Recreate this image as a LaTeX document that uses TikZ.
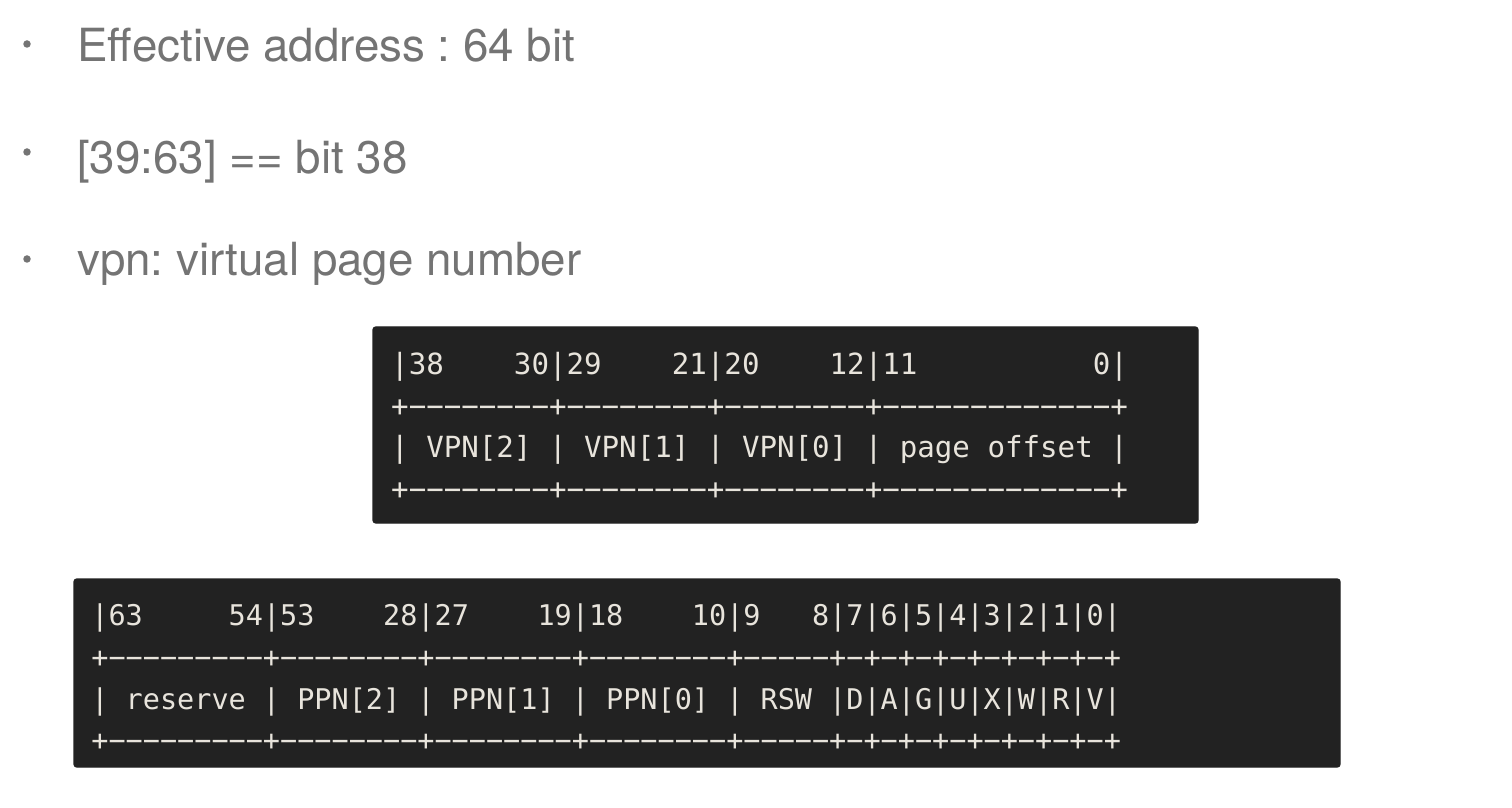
\documentclass[tikz,border=0pt]{standalone}
\usepackage{fontspec}
\setmainfont{TeX Gyre Heros}
\setmonofont{DejaVu Sans Mono}

\definecolor{slidegray}{RGB}{116,116,116}
\definecolor{termbg}{RGB}{34,34,34}
\definecolor{termfg}{RGB}{232,228,220}

\tikzset{
  item/.style={anchor=base west,inner sep=0pt,text=slidegray,font=\fontsize{13}{15}\selectfont},
  dot/.style={circle,fill=slidegray,inner sep=0pt,minimum size=0.75mm},
  vaddr/.style={anchor=base west,inner sep=0pt,text=termfg,font=\ttfamily\fontsize{8.29}{10}\selectfont},
  pte/.style={anchor=base west,inner sep=0pt,text=termfg,font=\ttfamily\fontsize{8.11}{10}\selectfont}
}

\begin{document}
\frenchspacing
\begin{tikzpicture}[x=0.1mm,y=-0.1mm]
				\useasboundingbox (0,0) rectangle (1512,808);
				% bullet points
				\node [dot] (d1) at (27,44) {};
				\node [item] (effaddr) at (76.5,62) {Effective address : 64 bit};
				\node [dot] (d2) at (27,152) {};
				\node [item] (signext) at (76.5,174) {[39:63] == bit 38};
				\node [dot] (d3) at (27,259) {};
				\node [item] (vpn) at (76.5,276) {vpn: virtual page number};
				% virtual address
				\draw [fill=termbg,draw=termbg,rounded corners=0.3mm] (373,327) rectangle (1198,523);
				\node [vaddr] (vaA) at (390.5,374.3) {|38~~~~30|29~~~~21|20~~~~12|11~~~~~~~~~~0|};
				\node [vaddr] (vaB) at (390.5,416.0) {+−−−−−−−−+−−−−−−−−+−−−−−−−−+−−−−−−−−−−−−−+};
				\node [vaddr] (vaC) at (390.5,457.7) {|~VPN[2]~|~VPN[1]~|~VPN[0]~|~page~offset~|};
				\node [vaddr] (vaD) at (390.5,499.4) {+−−−−−−−−+−−−−−−−−+−−−−−−−−+−−−−−−−−−−−−−+};
				% page table entry
				\draw [fill=termbg,draw=termbg,rounded corners=0.3mm] (74,579) rectangle (1340,767);
				\node [pte] (pteA) at (90.7,625.7) {|63~~~~~54|53~~~~28|27~~~~19|18~~~~10|9~~~8|7|6|5|4|3|2|1|0|};
				\node [pte] (pteB) at (90.7,667.4) {+−−−−−−−−−+−−−−−−−−+−−−−−−−−+−−−−−−−−+−−−−−+−+−+−+−+−+−+−+−+};
				\node [pte] (pteC) at (90.7,709.1) {|~reserve~|~PPN[2]~|~PPN[1]~|~PPN[0]~|~RSW~|D|A|G|U|X|W|R|V|};
				\node [pte] (pteD) at (90.7,750.8) {+−−−−−−−−−+−−−−−−−−+−−−−−−−−+−−−−−−−−+−−−−−+−+−+−+−+−+−+−+−+};
			\end{tikzpicture}
\end{document}
